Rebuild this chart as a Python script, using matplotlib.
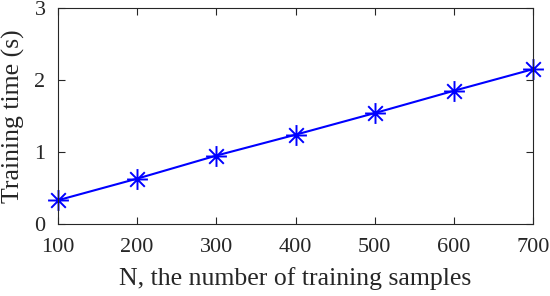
import matplotlib
matplotlib.use("Agg")
import matplotlib.pyplot as plt
from matplotlib.path import Path

# Sample data
n_samples = [100, 200, 300, 400, 500, 600, 700]
train_time = [0.33, 0.63, 0.95, 1.24, 1.54, 1.85, 2.15]
y_ticks = [0, 1, 2, 3]

plt.rcParams['font.family'] = ['Liberation Serif', 'DejaVu Serif']

# MATLAB style asterisk (plus + cross)
star = Path([(-1, 0), (1, 0), (0, -1), (0, 1),
             (-0.7, -0.7), (0.7, 0.7), (-0.7, 0.7), (0.7, -0.7)],
            [Path.MOVETO, Path.LINETO] * 4)

fig = plt.figure(figsize=(5.5, 2.96), dpi=100)
ax = fig.add_axes([58 / 550, 1 - 224 / 296, 475 / 550, 216 / 296])

ax.plot(n_samples, train_time, linestyle='-', color='b', linewidth=1.5,
        marker=star, markersize=15, markeredgewidth=1.4, fillstyle='none',
        clip_on=False)

ax.set_xlim(100, 700)
ax.set_ylim(0, 3)
ax.set_xticks(n_samples)
ax.set_yticks(y_ticks)

# Labels
ax.set_xlabel("N, the number of training samples", fontsize=18.5, color='#262626', labelpad=7)
ax.set_ylabel("Training time (s)", fontsize=18.5, color='#262626', labelpad=7)

# MATLAB-like box with inward ticks
ax.tick_params(direction='in', top=True, right=True, length=5, width=0.8,
               labelsize=16, colors='#262626')
ax.tick_params(axis='x', pad=10)
ax.tick_params(axis='y', pad=9)
for s in ax.spines.values():
    s.set_color('#262626')
    s.set_linewidth(0.8)

plt.savefig("out.png", dpi=100)
